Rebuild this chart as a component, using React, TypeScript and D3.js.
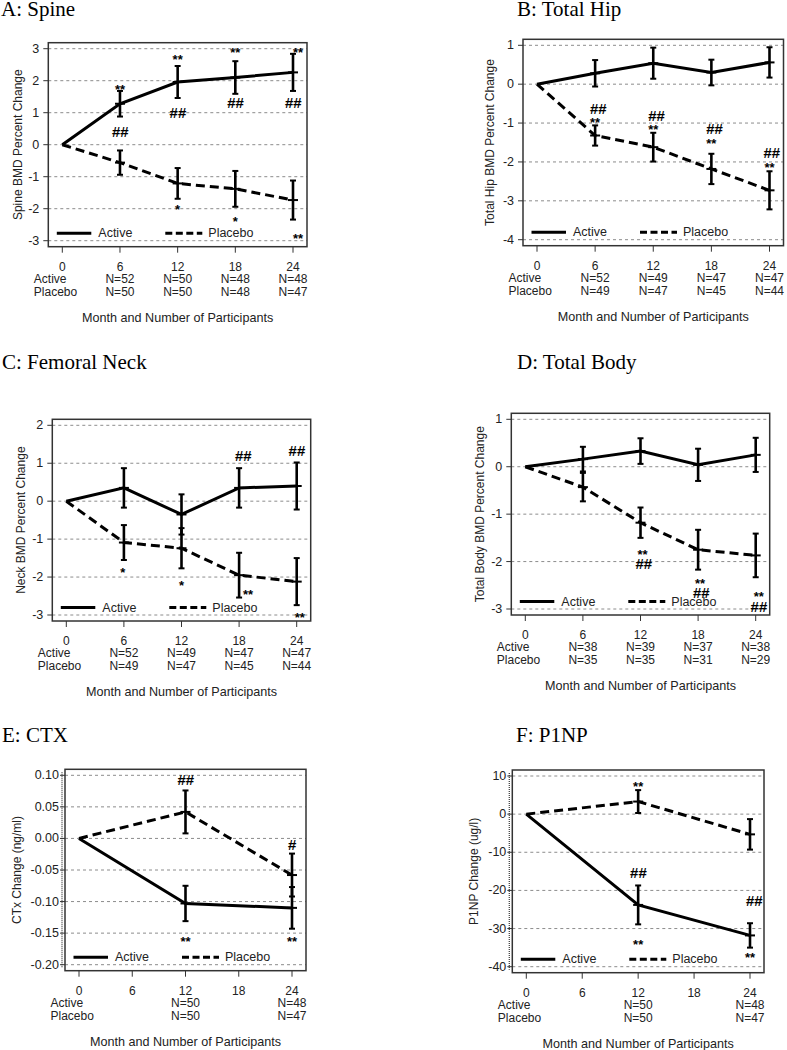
import React from 'react';
import * as d3 from 'd3';

const W = 787;
const H = 1050;
const SANS = '"Liberation Sans", Arial, sans-serif';
const SERIF = '"Liberation Serif", "Times New Roman", serif';

const bmdMonths = [0, 6, 12, 18, 24];
const markerMonths = [0, 12, 24];
const monthTicks = [0, 6, 12, 18, 24];

// A: Spine
const spineActive = [0, 1.28, 1.96, 2.1, 2.26];
const spineActiveErr = [0, 0.4, 0.5, 0.51, 0.58];
const spinePlacebo = [0, -0.56, -1.21, -1.38, -1.73];
const spinePlaceboErr = [0, 0.38, 0.48, 0.56, 0.61];
const spineNActive = [52, 50, 48, 48];
const spineNPlacebo = [50, 50, 48, 47];
const spineTicks = [-3, -2, -1, 0, 1, 2, 3];
const spineNotes = [
  [6, 1.81, '**', 0], [6, 0.4, '##', 0],
  [12, 2.73, '**', 0], [12, 1.02, '##', 0],
  [18, 2.97, '**', 0], [18, 1.32, '##', 0],
  [24, 2.97, '**', 5], [24, 1.32, '##', 0],
  [12, -1.94, '*', 0], [18, -2.31, '*', 0], [24, -2.84, '**', 5],
];

// B: Total Hip
const hipActive = [0, 0.28, 0.54, 0.3, 0.56];
const hipActiveErr = [0, 0.34, 0.4, 0.33, 0.39];
const hipPlacebo = [0, -1.32, -1.62, -2.18, -2.73];
const hipPlaceboErr = [0, 0.26, 0.37, 0.39, 0.49];
const hipNActive = [52, 49, 47, 47];
const hipNPlacebo = [49, 47, 45, 44];
const hipTicks = [-4, -3, -2, -1, 0, 1];
const hipNotes = [
  [6, -0.63, '##', 3], [6, -0.92, '**', 0],
  [12, -0.8, '##', 3], [12, -1.1, '**', 0],
  [18, -1.15, '##', 3], [18, -1.47, '**', 0],
  [24, -1.77, '##', 2], [24, -2.07, '**', 0],
];

// C: Femoral Neck
const neckActive = [0, 0.35, -0.35, 0.35, 0.4];
const neckActiveErr = [0, 0.52, 0.53, 0.52, 0.62];
const neckPlacebo = [0, -1.09, -1.24, -1.95, -2.12];
const neckPlaceboErr = [0, 0.46, 0.53, 0.59, 0.62];
const neckNActive = [52, 49, 47, 47];
const neckNPlacebo = [49, 47, 45, 44];
const neckTicks = [-3, -2, -1, 0, 1, 2];
const neckNotes = [
  [6, -1.82, '*', -1], [12, -2.16, '*', 0],
  [18, -2.4, '**', 9], [24, -3.01, '**', 3],
  [18, 1.2, '##', 4], [24, 1.34, '##', 0],
];

// D: Total Body
const bodyActive = [0, 0.16, 0.33, 0.04, 0.25];
const bodyActiveErr = [0, 0.26, 0.27, 0.34, 0.36];
const bodyPlacebo = [0, -0.43, -1.18, -1.75, -1.87];
const bodyPlaceboErr = [0, 0.3, 0.32, 0.42, 0.46];
const bodyNActive = [38, 39, 37, 38];
const bodyNPlacebo = [35, 35, 31, 29];
const bodyTicks = [-3, -2, -1, 0, 1];
const bodyNotes = [
  [12, -1.8, '**', 2], [12, -2.05, '##', 3],
  [18, -2.4, '**', 2], [18, -2.66, '##', 3],
  [24, -2.68, '**', 3], [24, -2.95, '##', 3],
];

// E: CTX
const ctxActive = [0, -0.103, -0.11];
const ctxActiveErr = [0, 0.028, 0.033];
const ctxPlacebo = [0, 0.042, -0.058];
const ctxPlaceboErr = [0, 0.034, 0.034];
const ctxNActive = [50, 48];
const ctxNPlacebo = [50, 47];
const ctxTicks = [-0.2, -0.15, -0.1, -0.05, 0, 0.05, 0.1];
const ctxNotes = [
  [12, 0.093, '##', 0], [12, -0.16, '**', 0],
  [24, -0.009, '#', 0], [24, -0.16, '**', 0],
];

// F: P1NP
const p1npActive = [0, -23.8, -31.8];
const p1npActiveErr = [0, 5.1, 3.2];
const p1npPlacebo = [0, 3.3, -5.3];
const p1npPlaceboErr = [0, 3.0, 4.0];
const p1npNActive = [50, 48];
const p1npNPlacebo = [50, 47];
const p1npTicks = [-40, -30, -20, -10, 0, 10];
const p1npNotes = [
  [12, 7.9, '**', 0], [12, -15.3, '##', 0], [12, -33.4, '**', 0],
  [24, -22.7, '##', 4], [24, -37.0, '**', 0],
];

const intFmt = (v: number) => String(v);
const ctxFmt = (v: number) => d3.format('.2f')(v).replace('\u2212', '-');

const panels = [
  {
    title: 'A: Spine', tx: 1, ty: 16, ylab: 'Spine BMD Percent Change', ylabDx: 30,
    frame: { x: 48.3, y: 42.7, w: 258.7, h: 204 },
    months: bmdMonths, active: spineActive, activeErr: spineActiveErr,
    placebo: spinePlacebo, placeboErr: spinePlaceboErr,
    nActive: spineNActive, nPlacebo: spineNPlacebo, ticks: spineTicks, notes: spineNotes, fmt: intFmt,
  },
  {
    title: 'B: Total Hip', tx: 517, ty: 16, ylab: 'Total Hip BMD Percent Change', ylabDx: 33,
    frame: { x: 523, y: 39.3, w: 260.5, h: 206.4 },
    months: bmdMonths, active: hipActive, activeErr: hipActiveErr,
    placebo: hipPlacebo, placeboErr: hipPlaceboErr,
    nActive: hipNActive, nPlacebo: hipNPlacebo, ticks: hipTicks, notes: hipNotes, fmt: intFmt,
  },
  {
    title: 'C: Femoral Neck', tx: 2, ty: 369, ylab: 'Neck BMD Percent Change', ylabDx: 31.5,
    frame: { x: 52.3, y: 419.3, w: 258.4, h: 201.7 },
    months: bmdMonths, active: neckActive, activeErr: neckActiveErr,
    placebo: neckPlacebo, placeboErr: neckPlaceboErr,
    nActive: neckNActive, nPlacebo: neckNPlacebo, ticks: neckTicks, notes: neckNotes, fmt: intFmt,
  },
  {
    title: 'D: Total Body', tx: 517, ty: 369, ylab: 'Total Body BMD Percent Change', ylabDx: 31,
    frame: { x: 511.3, y: 413.3, w: 258.4, h: 201.7 },
    months: bmdMonths, active: bodyActive, activeErr: bodyActiveErr,
    placebo: bodyPlacebo, placeboErr: bodyPlaceboErr,
    nActive: bodyNActive, nPlacebo: bodyNPlacebo, ticks: bodyTicks, notes: bodyNotes, fmt: intFmt,
  },
  {
    title: 'E: CTX', tx: 2, ty: 742, ylab: 'CTx Change (ng/ml)', ylabDx: 48, dotted: true,
    frame: { x: 65, y: 769.3, w: 241, h: 201.4 },
    months: markerMonths, active: ctxActive, activeErr: ctxActiveErr,
    placebo: ctxPlacebo, placeboErr: ctxPlaceboErr,
    nActive: ctxNActive, nPlacebo: ctxNPlacebo, ticks: ctxTicks, notes: ctxNotes, fmt: ctxFmt,
  },
  {
    title: 'F: P1NP', tx: 516, ty: 742, ylab: 'P1NP Change (ug/l)', ylabDx: 38, dotted: true,
    frame: { x: 512.3, y: 770, w: 251.7, h: 202.7 },
    months: markerMonths, active: p1npActive, activeErr: p1npActiveErr,
    placebo: p1npPlacebo, placeboErr: p1npPlaceboErr,
    nActive: p1npNActive, nPlacebo: p1npNPlacebo, ticks: p1npTicks, notes: p1npNotes, fmt: intFmt,
  },
];

function Series({ months, vals, errs, x, y, dashed }) {
  const pts = months.map((m, i) => [m, vals[i]] as [number, number]);
  const line = d3.line<[number, number]>().x(d => x(d[0])).y(d => y(d[1]));
  return (
    <g>
      <path d={line(pts) || ''} fill="none" stroke="#000" strokeWidth={3}
        strokeDasharray={dashed ? '9,5' : undefined} />
      {months.map((m, i) => {
        if (m === 0) return null;
        const cx = x(m);
        const hi = y(vals[i] + errs[i]);
        const lo = y(vals[i] - errs[i]);
        return (
          <g key={i} stroke="#000">
            <line x1={cx} x2={cx} y1={hi} y2={lo} strokeWidth={2.6} />
            <line x1={cx - 3} x2={cx + 3} y1={hi} y2={hi} strokeWidth={2} />
            <line x1={cx - 3} x2={cx + 3} y1={lo} y2={lo} strokeWidth={2} />
            <line x1={cx - 5} x2={cx + 5} y1={y(vals[i])} y2={y(vals[i])} strokeWidth={2} />
          </g>
        );
      })}
    </g>
  );
}

function Panel({ p }) {
  const f = p.frame;
  const bottom = f.y + f.h;
  const x = d3.scaleLinear().domain([0, 24]).range([f.x + 14, f.x + f.w - 14]);
  const y = d3.scaleLinear()
    .domain([p.ticks[0], p.ticks[p.ticks.length - 1]])
    .range([bottom - 6, f.y + 6]);
  const nMonths = p.months.slice(1);
  const legY = bottom - 13.5;
  const cy = f.y + f.h / 2;
  const ylx = f.x - p.ylabDx;

  return (
    <g>
      <text x={p.tx} y={p.ty} fontFamily={SERIF} fontSize={21} fill="#000">{p.title}</text>

      {/* grid */}
      {p.ticks.map((t, i) => (
        <line key={i} x1={f.x} x2={f.x + f.w} y1={y(t)} y2={y(t)}
          stroke="#8c8c8c" strokeWidth={1} strokeDasharray="3,3" />
      ))}
      <rect x={f.x} y={f.y} width={f.w} height={f.h} fill="none" stroke="#333" strokeWidth={1.5} />
      {p.dotted && (
        <line x1={f.x - 3} x2={f.x - 3} y1={f.y + 3} y2={bottom - 3}
          stroke="#444" strokeWidth={1.3} strokeDasharray="1,1" />
      )}

      {/* y axis */}
      {p.ticks.map((t, i) => (
        <g key={i}>
          <line x1={f.x - 5} x2={f.x} y1={y(t)} y2={y(t)} stroke="#333" strokeWidth={1} />
          <text x={f.x - (p.dotted ? 6 : 9)} y={y(t)} textAnchor="end" dominantBaseline="central"
            fontFamily={SANS} fontSize={12.5} fill="#222">{p.fmt(t)}</text>
        </g>
      ))}
      <text x={ylx} y={cy} transform={`rotate(-90 ${ylx} ${cy})`} textAnchor="middle"
        dominantBaseline="central" fontFamily={SANS} fontSize={12} fill="#222">{p.ylab}</text>

      {/* x axis */}
      {monthTicks.map((m, i) => (
        <g key={i}>
          <line x1={x(m)} x2={x(m)} y1={bottom} y2={bottom + 6} stroke="#333" strokeWidth={1} />
          <text x={x(m)} y={bottom + 24} textAnchor="middle" fontFamily={SANS} fontSize={12} fill="#222">{m}</text>
        </g>
      ))}
      <text x={f.x - 14.5} y={bottom + 36} fontFamily={SANS} fontSize={12} fill="#222">Active</text>
      <text x={f.x - 14.5} y={bottom + 49} fontFamily={SANS} fontSize={12} fill="#222">Placebo</text>
      {nMonths.map((m, i) => (
        <g key={i}>
          <text x={x(m)} y={bottom + 36} textAnchor="middle" fontFamily={SANS} fontSize={12} fill="#222">{`N=${p.nActive[i]}`}</text>
          <text x={x(m)} y={bottom + 49} textAnchor="middle" fontFamily={SANS} fontSize={12} fill="#222">{`N=${p.nPlacebo[i]}`}</text>
        </g>
      ))}
      <text x={f.x + f.w / 2} y={bottom + 75} textAnchor="middle" fontFamily={SANS} fontSize={12.6} fill="#222">
        Month and Number of Participants
      </text>

      {/* data */}
      <Series months={p.months} vals={p.placebo} errs={p.placeboErr} x={x} y={y} dashed />
      <Series months={p.months} vals={p.active} errs={p.activeErr} x={x} y={y} dashed={false} />

      {/* significance marks */}
      {p.notes.map((n, i) => {
        const [m, v, label, dx] = n;
        const star = label.startsWith('*');
        return (
          <text key={i} x={x(m) + dx} y={y(v) + (star ? 7 : 5.5)} textAnchor="middle"
            fontFamily={SANS} fontWeight="bold" fontStyle={star ? 'normal' : 'italic'}
            fontSize={star ? 13 : 15} fill="#000">{label}</text>
        );
      })}

      {/* legend */}
      <line x1={f.x + 8.5} x2={f.x + 43} y1={legY} y2={legY} stroke="#000" strokeWidth={3} />
      <text x={f.x + 50} y={legY} dominantBaseline="central" fontFamily={SANS} fontSize={12.5} fill="#222">Active</text>
      <line x1={f.x + 117} x2={f.x + 154} y1={legY} y2={legY} stroke="#000" strokeWidth={3} strokeDasharray="7,3.5" />
      <text x={f.x + 160} y={legY} dominantBaseline="central" fontFamily={SANS} fontSize={12.5} fill="#222">Placebo</text>
    </g>
  );
}

export default function App() {
  return (
    <svg width={W} height={H} viewBox={`0 0 ${W} ${H}`}
      style={{ position: 'absolute', left: 0, top: 0, background: '#fff' }}>
      <rect x={0} y={0} width={W} height={H} fill="#fff" />
      {panels.map((p, i) => <Panel key={i} p={p} />)}
    </svg>
  );
}
